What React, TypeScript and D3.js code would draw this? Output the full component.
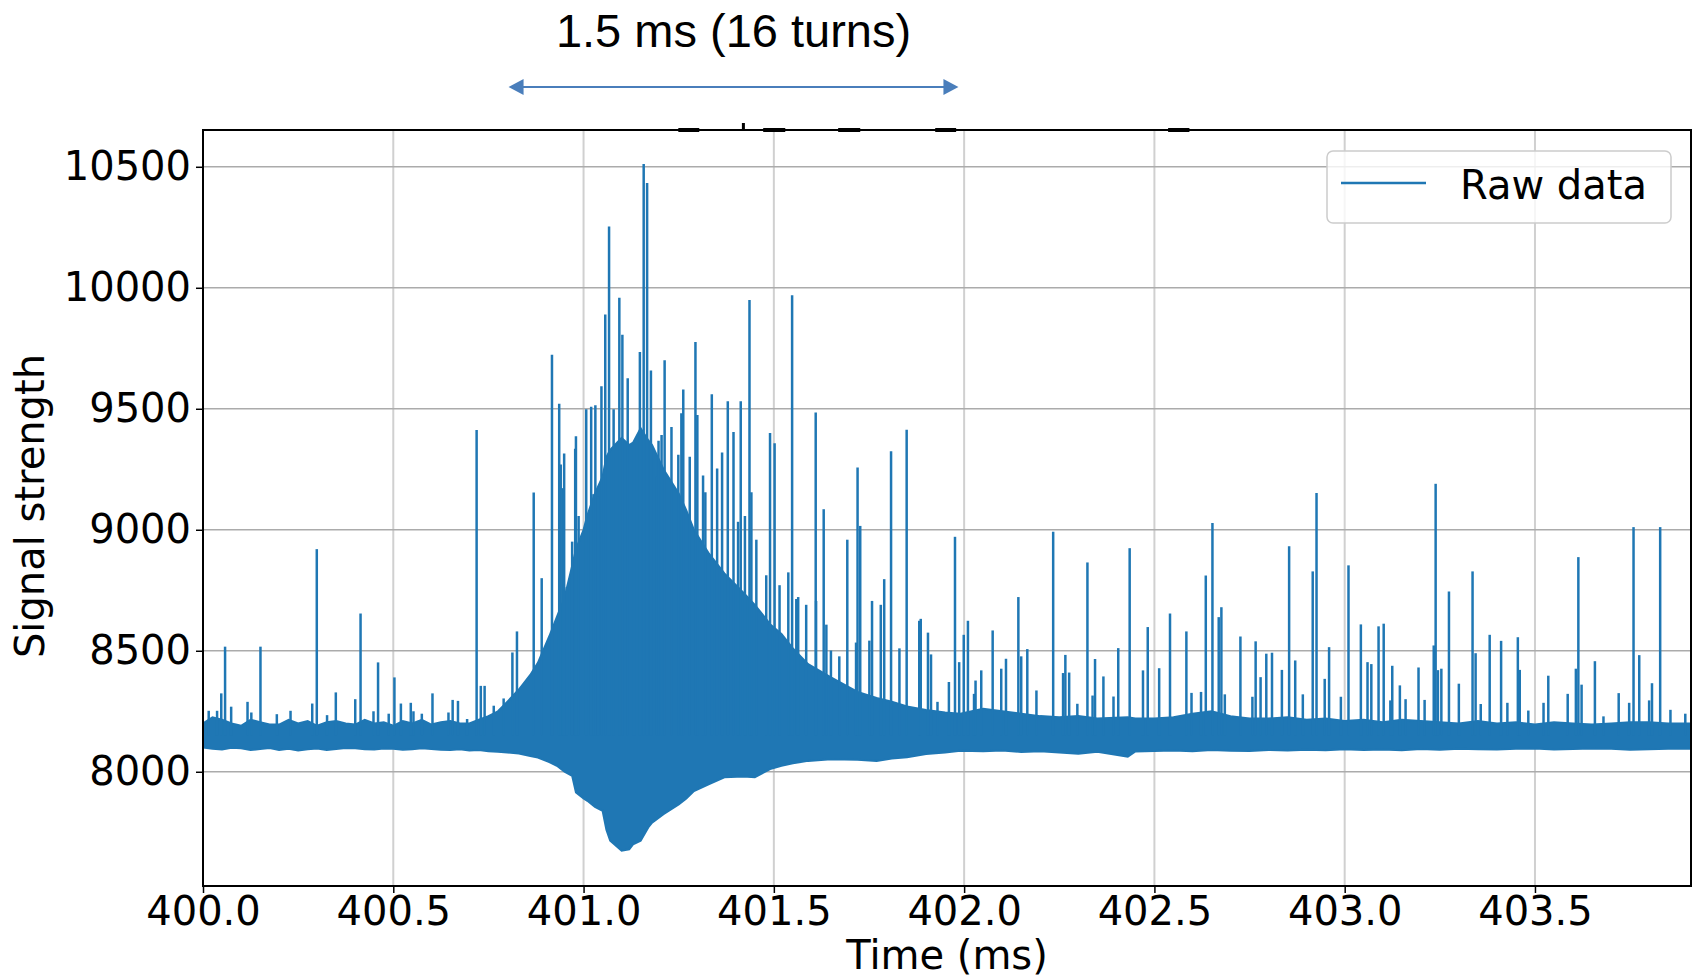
import React, { useEffect, useRef } from "react";
import * as d3 from "d3";

// dense band of the signal: [time (ms), lower edge, upper edge]
const band = [
  [400.0, 8100, 8200], [400.025, 8095, 8225], [400.05, 8092, 8215], [400.075, 8099, 8200],
  [400.1, 8097, 8190], [400.125, 8090, 8215], [400.15, 8094, 8205], [400.175, 8098, 8195],
  [400.2, 8090, 8195], [400.225, 8095, 8215], [400.25, 8088, 8200], [400.275, 8093, 8210],
  [400.3, 8096, 8190], [400.325, 8090, 8205], [400.35, 8094, 8210], [400.375, 8098, 8200],
  [400.4, 8097, 8195], [400.425, 8093, 8215], [400.45, 8092, 8200], [400.475, 8096, 8205],
  [400.5, 8095, 8190], [400.525, 8091, 8210], [400.55, 8093, 8200], [400.575, 8097, 8215],
  [400.6, 8094, 8195], [400.625, 8091, 8205], [400.65, 8090, 8210], [400.675, 8093, 8200],
  [400.7, 8088, 8200], [400.725, 8090, 8215], [400.75, 8085, 8230], [400.775, 8083, 8250],
  [400.8, 8080, 8290], [400.83, 8075, 8340], [400.86, 8065, 8400], [400.88, 8059, 8450],
  [400.91, 8040, 8560], [400.93, 8025, 8640], [400.95, 8000, 8720], [400.97, 7983, 8850],
  [400.98, 7915, 8920], [401.0, 7890, 9000], [401.01, 7880, 9060], [401.03, 7855, 9150],
  [401.05, 7839, 9220], [401.06, 7760, 9300], [401.07, 7715, 9330], [401.1, 7674, 9380],
  [401.12, 7680, 9350], [401.13, 7700, 9360], [401.15, 7715, 9420], [401.17, 7770, 9370],
  [401.18, 7790, 9350], [401.21, 7825, 9250], [401.25, 7865, 9150], [401.27, 7890, 9080],
  [401.29, 7920, 9000], [401.33, 7949, 8900], [401.37, 7977, 8820], [401.42, 7980, 8740],
  [401.45, 7977, 8690], [401.49, 8011, 8610], [401.52, 8025, 8570], [401.55, 8035, 8510],
  [401.59, 8045, 8445], [401.65, 8052, 8390], [401.72, 8050, 8330], [401.77, 8045, 8305],
  [401.81, 8055, 8290], [401.85, 8060, 8270], [401.9, 8073, 8255], [401.95, 8080, 8245],
  [401.99, 8087, 8240], [402.05, 8085, 8260], [402.1, 8088, 8250], [402.15, 8082, 8240],
  [402.2, 8085, 8230], [402.25, 8080, 8225], [402.3, 8075, 8230], [402.35, 8083, 8220],
  [402.43, 8062, 8225], [402.45, 8084, 8220], [402.5, 8086, 8220], [402.55, 8088, 8225],
  [402.6, 8085, 8240], [402.65, 8090, 8250], [402.7, 8087, 8230], [402.75, 8086, 8220],
  [402.8, 8090, 8220], [402.85, 8088, 8225], [402.9, 8091, 8215], [402.95, 8089, 8220],
  [403.0, 8093, 8210], [403.05, 8090, 8215], [403.1, 8092, 8205], [403.15, 8089, 8215],
  [403.2, 8094, 8210], [403.25, 8091, 8205], [403.3, 8095, 8200], [403.35, 8093, 8210],
  [403.4, 8092, 8200], [403.45, 8095, 8205], [403.5, 8096, 8195], [403.55, 8092, 8205],
  [403.6, 8094, 8200], [403.65, 8096, 8195], [403.7, 8095, 8200], [403.75, 8091, 8205],
  [403.8, 8093, 8205], [403.85, 8095, 8200], [403.91, 8095, 8200],
];

// individual spikes above the band: [time (ms), peak]
const spikes = [
  [400.015, 8252], [400.037, 8252], [400.048, 8324], [400.058, 8517], [400.074, 8269],
  [400.117, 8289], [400.127, 8245], [400.151, 8517], [400.194, 8238], [400.23, 8252],
  [400.287, 8282], [400.299, 8920], [400.326, 8234], [400.349, 8328], [400.4, 8300],
  [400.414, 8654], [400.448, 8250], [400.46, 8452], [400.488, 8240], [400.503, 8390],
  [400.52, 8282], [400.546, 8285], [400.553, 8250], [400.575, 8240], [400.603, 8324],
  [400.645, 8245], [400.656, 8297], [400.67, 8293], [400.694, 8218], [400.719, 9412],
  [400.73, 8355], [400.74, 8355], [400.764, 8273], [400.79, 8303], [400.813, 8493],
  [400.825, 8580], [400.869, 9154], [400.89, 8800], [400.917, 9723], [400.936, 9521],
  [400.94, 9270], [400.946, 9172], [400.949, 9315], [400.956, 8763], [400.97, 8951],
  [400.978, 9335], [400.98, 9387], [400.987, 9057], [401.007, 9498], [401.02, 9508],
  [401.026, 9147], [401.031, 9515], [401.038, 9139], [401.047, 9593], [401.057, 9890],
  [401.067, 10253], [401.079, 9498], [401.094, 9959], [401.102, 9806], [401.116, 9626],
  [401.133, 9351], [401.148, 9735], [401.158, 10511], [401.167, 10433], [401.177, 9658],
  [401.192, 9220], [401.197, 9368], [401.205, 9392], [401.213, 9701], [401.231, 9425],
  [401.249, 9310], [401.257, 9482], [401.262, 9580], [401.279, 9302], [401.294, 9776],
  [401.299, 9474], [401.314, 9224], [401.32, 9155], [401.337, 9560], [401.351, 9253],
  [401.364, 9319], [401.379, 9531], [401.394, 9404], [401.406, 9033], [401.413, 9531],
  [401.424, 9057], [401.436, 9949], [401.441, 9155], [401.454, 8959], [401.48, 8812],
  [401.49, 9400], [401.502, 9358], [401.515, 8771], [401.538, 8824], [401.548, 9969],
  [401.559, 8714], [401.564, 8722], [401.585, 8690], [401.61, 9485], [401.611, 8706],
  [401.631, 9085], [401.638, 8608], [401.65, 8501], [401.672, 8477], [401.693, 8959],
  [401.716, 8534], [401.72, 9257], [401.727, 9016], [401.751, 8542], [401.758, 8706],
  [401.781, 8690], [401.79, 8796], [401.808, 9325], [401.83, 8510], [401.849, 9413],
  [401.882, 8624], [401.886, 8632], [401.905, 8575], [401.913, 8485], [401.93, 8289],
  [401.96, 8371], [401.976, 8971], [401.987, 8453], [401.999, 8566], [402.01, 8624],
  [402.026, 8322], [402.03, 8377], [402.045, 8419], [402.075, 8584], [402.0975, 8426],
  [402.11, 8467], [402.1425, 8722], [402.15, 8477], [402.166, 8507], [402.19, 8336],
  [402.234, 8992], [402.26, 8408], [402.266, 8483], [402.276, 8410], [402.2975, 8281],
  [402.324, 8865], [402.3375, 8315], [402.344, 8466], [402.366, 8394], [402.3925, 8311],
  [402.405, 8511], [402.435, 8924], [402.47, 8419], [402.4825, 8598], [402.5125, 8428],
  [402.541, 8654], [402.584, 8580], [402.5975, 8326], [402.6225, 8330], [402.635, 8811],
  [402.6525, 9028], [402.669, 8639], [402.676, 8680], [402.685, 8320], [402.726, 8559],
  [402.7575, 8310], [402.766, 8539], [402.779, 8391], [402.794, 8488], [402.809, 8492],
  [402.835, 8421], [402.854, 8932], [402.87, 8460], [402.89, 8320], [402.916, 8828],
  [402.926, 9152], [402.9475, 8384], [402.959, 8515], [402.99, 8310], [403.01, 8853],
  [403.0425, 8609], [403.06, 8453], [403.07, 8445], [403.089, 8601], [403.1025, 8612],
  [403.12, 8295], [403.125, 8438], [403.145, 8357], [403.16, 8300], [403.194, 8431],
  [403.21, 8297], [403.234, 8522], [403.239, 9190], [403.245, 8420], [403.254, 8426],
  [403.274, 8745], [403.3, 8364], [403.336, 8828], [403.344, 8490], [403.3575, 8280],
  [403.381, 8566], [403.411, 8541], [403.4275, 8285], [403.455, 8556], [403.46, 8421],
  [403.4825, 8253], [403.5225, 8285], [403.535, 8397], [403.586, 8322], [403.6075, 8426],
  [403.614, 8887], [403.6225, 8360], [403.6575, 8457], [403.68, 8229], [403.72, 8325],
  [403.7475, 8285], [403.759, 9011], [403.774, 8482], [403.8, 8295], [403.8075, 8366],
  [403.829, 9011], [403.856, 8256], [403.895, 8240],
];

const xTicks = [400, 400.5, 401, 401.5, 402, 402.5, 403, 403.5];
const yTicks = [8000, 8500, 9000, 9500, 10000, 10500];
const xDomain = [400, 403.91];
const yDomain = [7528, 10652];

// leftover black dashes sitting on the top frame, in axis time units
const topDashes = [[401.249, 401.304], [401.472, 401.53], [401.669, 401.727], [401.924, 401.979], [402.536, 402.592]];
const topTick = 401.42;
const arrowSpan = [400.803, 401.985];
const annotation = "1.5 ms (16 turns)";
const legendLabel = "Raw data";

const App = () => {
  const svgRef = useRef<SVGSVGElement>(null);

  useEffect(() => {
    document.body.style.margin = "0";
    const width = 1700, height = 979;
    const left = 203, right = 1691, top = 130, bottom = 886;
    const blue = "#1f77b4";
    const font = "'DejaVu Sans', sans-serif";

    const svg = d3.select(svgRef.current).attr("width", width).attr("height", height);
    svg.selectAll("*").remove();

    const x = d3.scaleLinear().domain(xDomain).range([left, right]);
    const y = d3.scaleLinear().domain(yDomain).range([bottom, top]);

    // grid //
    svg.append("g").selectAll("line").data(xTicks).join("line")
      .attr("x1", d => x(d)).attr("x2", d => x(d))
      .attr("y1", top).attr("y2", bottom)
      .attr("stroke", "#d0d0d0").attr("stroke-width", 2);
    svg.append("g").selectAll("line").data(yTicks).join("line")
      .attr("x1", left).attr("x2", right)
      .attr("y1", d => y(d)).attr("y2", d => y(d))
      .attr("stroke", "#ababab").attr("stroke-width", 1.5);

    svg.append("clipPath").attr("id", "plot-clip")
      .append("rect").attr("x", left).attr("y", top).attr("width", right - left).attr("height", bottom - top);

    const data = svg.append("g").attr("clip-path", "url(#plot-clip)");

    // dense band //
    const area = d3.area<number[]>()
      .x(d => x(d[0]))
      .y0(d => y(d[1]))
      .y1(d => y(d[2]));
    data.append("path").datum(band)
      .attr("d", area)
      .attr("fill", blue).attr("stroke", blue).attr("stroke-width", 2);

    // spikes //
    data.selectAll(".spike").data(spikes).join("line")
      .attr("class", "spike")
      .attr("x1", d => x(d[0])).attr("x2", d => x(d[0]))
      .attr("y1", y(8150)).attr("y2", d => y(d[1]))
      .attr("stroke", blue).attr("stroke-width", 2.5);

    // axes //
    const xAxis = svg.append("g").attr("transform", `translate(0,${bottom})`)
      .call(d3.axisBottom(x).tickValues(xTicks).tickFormat(d3.format(".1f")).tickSize(7).tickSizeOuter(0).tickPadding(4));
    const yAxis = svg.append("g").attr("transform", `translate(${left},0)`)
      .call(d3.axisLeft(y).tickValues(yTicks).tickFormat(d3.format("d")).tickSize(7).tickSizeOuter(0).tickPadding(5));
    [xAxis, yAxis].forEach(g => {
      g.select(".domain").remove();
      g.selectAll(".tick line").attr("stroke", "#000").attr("stroke-width", 1.5);
      g.selectAll(".tick text").attr("font-family", font).attr("font-size", 40).attr("fill", "#000");
    });

    // frame //
    svg.append("rect")
      .attr("x", left).attr("y", top).attr("width", right - left).attr("height", bottom - top)
      .attr("fill", "none").attr("stroke", "#000").attr("stroke-width", 2);

    // axis labels //
    svg.append("text")
      .attr("x", (left + right) / 2).attr("y", 969)
      .attr("text-anchor", "middle")
      .attr("font-family", font).attr("font-size", 40)
      .text("Time (ms)");
    svg.append("text")
      .attr("transform", `translate(44,${(top + bottom) / 2 - 2}) rotate(-90)`)
      .attr("text-anchor", "middle")
      .attr("font-family", font).attr("font-size", 40)
      .text("Signal strength");

    // legend //
    const legend = svg.append("g");
    legend.append("rect")
      .attr("x", 1327).attr("y", 151).attr("width", 344).attr("height", 72).attr("rx", 6)
      .attr("fill", "#fff").attr("fill-opacity", 0.8)
      .attr("stroke", "#cccccc").attr("stroke-width", 1.5);
    legend.append("line")
      .attr("x1", 1341).attr("x2", 1426).attr("y1", 183).attr("y2", 183)
      .attr("stroke", blue).attr("stroke-width", 2.5);
    legend.append("text")
      .attr("x", 1460).attr("y", 199)
      .attr("font-family", font).attr("font-size", 40)
      .text(legendLabel);

    // marks on the top frame //
    svg.append("g").selectAll("rect").data(topDashes).join("rect")
      .attr("x", d => x(d[0])).attr("width", d => x(d[1]) - x(d[0]))
      .attr("y", 128).attr("height", 4).attr("fill", "#000");
    svg.append("rect")
      .attr("x", x(topTick) - 1.5).attr("width", 3)
      .attr("y", 123).attr("height", 8).attr("fill", "#000");

    // annotation arrow //
    const arrowColor = "#4a7ebb";
    const ay = 87, ax0 = x(arrowSpan[0]), ax1 = x(arrowSpan[1]);
    svg.append("line")
      .attr("x1", ax0 + 10).attr("x2", ax1 - 10).attr("y1", ay).attr("y2", ay)
      .attr("stroke", arrowColor).attr("stroke-width", 2.2);
    svg.append("path")
      .attr("d", `M${ax0},${ay} L${ax0 + 15},${ay - 8} L${ax0 + 15},${ay + 8} Z`)
      .attr("fill", arrowColor);
    svg.append("path")
      .attr("d", `M${ax1},${ay} L${ax1 - 15},${ay - 8} L${ax1 - 15},${ay + 8} Z`)
      .attr("fill", arrowColor);
    svg.append("text")
      .attr("x", (ax0 + ax1) / 2).attr("y", 47)
      .attr("text-anchor", "middle")
      .attr("font-family", "'Liberation Sans', Arial, sans-serif").attr("font-size", 47)
      .text(annotation);
  }, []);

  return <svg ref={svgRef} style={{ display: "block" }}></svg>;
};

export default App;
